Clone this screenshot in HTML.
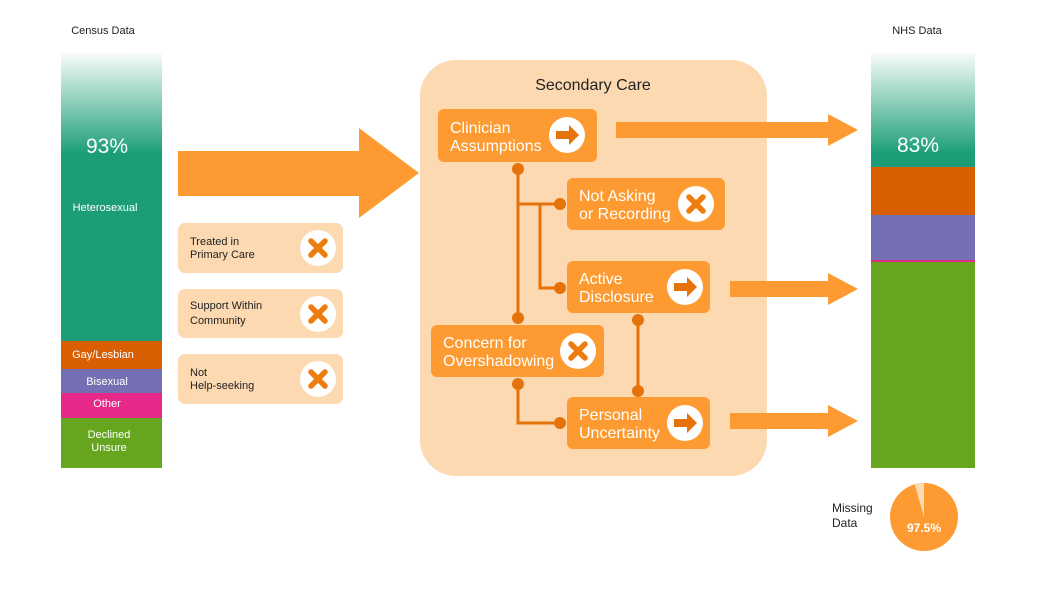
<!DOCTYPE html>
<html><head><meta charset="utf-8"><style>
html,body{margin:0;padding:0;background:#fff;}
svg{display:block;font-family:"Liberation Sans",sans-serif;}
</style></head><body>
<svg width="1058" height="595" viewBox="0 0 1058 595" xmlns="http://www.w3.org/2000/svg">
<defs>
<linearGradient id="g1" x1="0" y1="0" x2="0" y2="1">
<stop offset="0" stop-color="#1b9e77" stop-opacity="0.03"/>
<stop offset="1" stop-color="#1b9e77"/>
</linearGradient>
<g id="xc"><circle r="18" fill="#fff"/><path d="M-7,-7L7,7M7,-7L-7,7" stroke="#ee7d10" stroke-width="5.5" stroke-linecap="round"/></g>
<g id="ac"><circle r="18" fill="#fff"/><path d="M-11,-4H2V-10L12,0L2,10V4H-11Z" fill="#e5730a"/></g>
</defs>
<!-- left bar -->
<text x="103" y="34" font-size="11" text-anchor="middle" fill="#222">Census Data</text>
<rect x="61" y="53" width="101" height="101" fill="url(#g1)"/>
<rect x="61" y="153" width="101" height="188" fill="#1b9e77"/>
<rect x="61" y="341" width="101" height="28" fill="#d95f02"/>
<rect x="61" y="369" width="101" height="24" fill="#7570b3"/>
<rect x="61" y="393" width="101" height="25" fill="#e7298a"/>
<rect x="61" y="418" width="101" height="50" fill="#66a61e"/>
<g fill="#fff" text-anchor="middle" font-size="11">
<text x="107" y="153" font-size="21">93%</text>
<text x="105" y="211">Heterosexual</text>
<text x="103" y="358">Gay/Lesbian</text>
<text x="107" y="385">Bisexual</text>
<text x="107" y="407">Other</text>
<text x="109" y="438">Declined</text>
<text x="109" y="451">Unsure</text>
</g>
<!-- big arrow -->
<path d="M178,151H359V128L419,173L359,218V196H178Z" fill="#fd9a31"/>
<!-- small boxes -->
<g font-size="11" fill="#222">
<rect x="178" y="223" width="165" height="50" rx="7" fill="#fdd9b1"/>
<text x="190" y="245">Treated in</text><text x="190" y="258">Primary Care</text>
<use href="#xc" x="318" y="248"/>
<rect x="178" y="289" width="165" height="49" rx="7" fill="#fdd9b1"/>
<text x="190" y="309">Support Within</text><text x="190" y="324">Community</text>
<use href="#xc" x="318" y="314"/>
<rect x="178" y="354" width="165" height="50" rx="7" fill="#fdd9b1"/>
<text x="190" y="376">Not</text><text x="190" y="389">Help-seeking</text>
<use href="#xc" x="318" y="379"/>
</g>
<!-- secondary care -->
<rect x="420" y="60" width="347" height="416" rx="36" fill="#fdd9b1"/>
<text x="593" y="90" font-size="16" text-anchor="middle" fill="#222">Secondary Care</text>
<g stroke="#e5730a" stroke-width="3" fill="none">
<path d="M518,169V318M518,204H560M540,204V288H560M638,320V391M518,384V423H560"/>
</g>
<g fill="#e5730a">
<circle cx="518" cy="169" r="6"/><circle cx="518" cy="318" r="6"/><circle cx="560" cy="204" r="6"/>
<circle cx="560" cy="288" r="6"/><circle cx="638" cy="320" r="6"/><circle cx="638" cy="391" r="6"/>
<circle cx="518" cy="384" r="6"/><circle cx="560" cy="423" r="6"/>
</g>
<g fill="#fd9a31">
<rect x="438" y="109" width="159" height="53" rx="6"/>
<rect x="567" y="178" width="158" height="52" rx="6"/>
<rect x="567" y="261" width="143" height="52" rx="6"/>
<rect x="431" y="325" width="173" height="52" rx="6"/>
<rect x="567" y="397" width="143" height="52" rx="6"/>
</g>
<g fill="#fff" font-size="16">
<text x="450" y="133">Clinician</text><text x="450" y="151">Assumptions</text>
<text x="579" y="201">Not Asking</text><text x="579" y="219">or Recording</text>
<text x="579" y="284">Active</text><text x="579" y="302">Disclosure</text>
<text x="443" y="348">Concern for</text><text x="443" y="366">Overshadowing</text>
<text x="579" y="420">Personal</text><text x="579" y="438">Uncertainty</text>
</g>
<use href="#ac" x="567" y="135"/>
<use href="#xc" x="696" y="204"/>
<use href="#ac" x="685" y="287"/>
<use href="#xc" x="578" y="351"/>
<use href="#ac" x="685" y="423"/>
<!-- right arrows -->
<g fill="#fd9a31">
<path d="M616,122H828V114L858,130L828,146V138H616Z"/>
<path d="M730,281H828V273L858,289L828,305V297H730Z"/>
<path d="M730,413H828V405L858,421L828,437V429H730Z"/>
</g>
<!-- right bar -->
<text x="917" y="34" font-size="11" text-anchor="middle" fill="#222">NHS Data</text>
<rect x="871" y="53" width="104" height="101" fill="url(#g1)"/>
<rect x="871" y="153" width="104" height="14" fill="#1b9e77"/>
<rect x="871" y="167" width="104" height="48" fill="#d95f02"/>
<rect x="871" y="215" width="104" height="45" fill="#7570b3"/>
<rect x="871" y="260" width="104" height="2" fill="#e7298a"/>
<rect x="871" y="262" width="104" height="206" fill="#66a61e"/>
<text x="918" y="152" font-size="21" text-anchor="middle" fill="#fff">83%</text>
<!-- pie -->
<text x="832" y="512" font-size="12" fill="#222">Missing</text>
<text x="832" y="527" font-size="12" fill="#222">Data</text>
<circle cx="924" cy="517" r="34" fill="#fd9a31"/>
<path d="M924,517V483A34,34 0 0 0 914.6,484.3Z" fill="#fdd9b1"/>
<text x="924" y="532" font-size="12" font-weight="bold" fill="#fff" text-anchor="middle">97.5%</text>
</svg>
</body></html>
